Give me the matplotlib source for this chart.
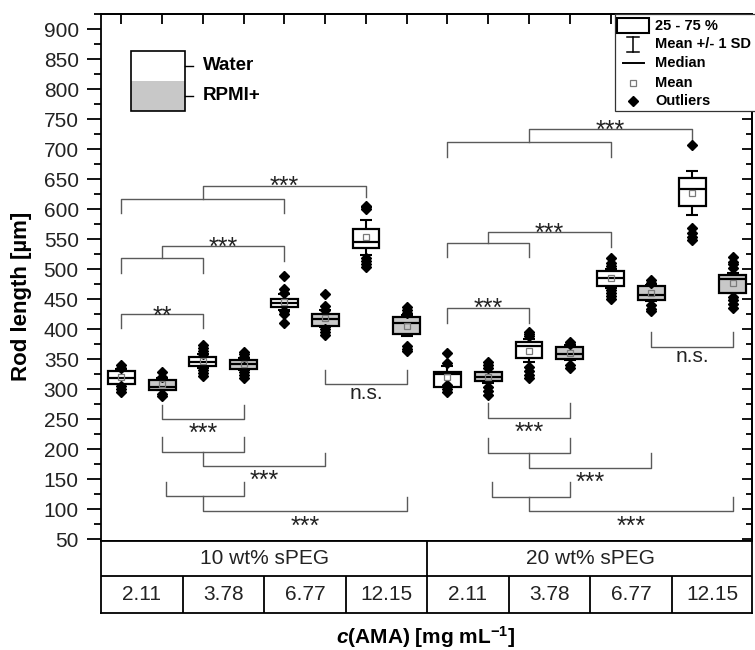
import numpy as np
import matplotlib.pyplot as plt
from matplotlib.patches import Rectangle
from matplotlib.ticker import MultipleLocator

plt.rcParams['font.family'] = ['Liberation Sans', 'DejaVu Sans']
plt.rcParams['mathtext.fontset'] = 'custom'
plt.rcParams['mathtext.rm'] = 'Liberation Sans'
plt.rcParams['mathtext.bf'] = 'Liberation Sans:bold'
plt.rcParams['mathtext.it'] = 'Liberation Sans:italic'
plt.rcParams['mathtext.bfit'] = 'Liberation Sans:bold:italic'

## data (order: 10 wt% then 20 wt%, each AMA conc. Water then RPMI+)
peg_groups = ['10 wt% sPEG', '20 wt% sPEG']
ama_conc = ['2.11', '3.78', '6.77', '12.15']
media = ['Water', 'RPMI+']

q1 = [308, 299, 338, 333, 437, 405, 535, 392,
      304, 313, 352, 350, 472, 448, 606, 460]
median = [318, 304, 345, 342, 443, 417, 545, 411,
          325, 320, 372, 358, 485, 457, 633, 483]
q3 = [331, 315, 353, 349, 450, 426, 567, 420,
      329, 328, 378, 370, 497, 472, 652, 491]
mean = [321, 308, 347, 342, 445, 418, 553, 406,
        321, 320, 364, 361, 485, 460, 627, 477]
sd = [12, 10, 11, 10, 13, 14, 29, 18,
      18, 9, 19, 12, 16, 13, 37, 17]
outliers = [
    [295, 300, 305, 336, 341],
    [288, 292, 320, 328],
    [322, 327, 332, 358, 363, 368, 373],
    [318, 323, 328, 353, 358, 362],
    [410, 425, 430, 460, 467, 488],
    [390, 395, 400, 432, 438, 458],
    [503, 508, 513, 519, 600, 603, 606],
    [363, 367, 372, 427, 432, 437],
    [296, 301, 307, 343, 360],
    [290, 297, 304, 335, 340, 346],
    [318, 324, 331, 337, 388, 392, 396],
    [335, 340, 375, 379],
    [451, 456, 461, 466, 505, 510, 518],
    [430, 434, 440, 477, 482],
    [549, 554, 561, 568, 707],
    [436, 442, 448, 454, 502, 508, 512, 521],
]

# significance brackets: x1, x2, y, leg, x_mid, x3, y2, leg2, label, text x, text centre
brackets = [
    (1, 3, 425.5, -24, None, None, None, None, '**', 2, 433),
    (1, 3, 518, -24, 2, 5, 538, -25, '***', 3.5, 548),
    (1, 5, 617, -24, 3, 7, 639.5, -18.5, '***', 5, 649.5),
    (2, 4, 250.5, 23.3, None, None, None, None, '***', 3, 237.7),
    (2, 4, 196, 25, 3, 6, 172.2, 22.3, '***', 4.5, 160),
    (2.1, 4, 122, 24, 3, 8, 97.7, 23.3, '***', 5.5, 83),
    (6, 8, 308.3, 23.7, None, None, None, None, 'n.s.', 7, 292),
    (9, 11, 435, -25, None, None, None, None, '***', 10, 446),
    (9, 11, 543.3, -23.3, 10, 13, 562.7, -25, '***', 11.5, 572),
    (9, 13, 711.5, -23.8, 11, 15, 733.3, -20.6, '***', 13, 743),
    (10, 12, 251.7, 26, None, None, None, None, '***', 11, 239),
    (10, 12, 194.5, 23.5, 11, 14, 169.5, 23.5, '***', 12.5, 157),
    (10.1, 12, 121, 25, 11, 16, 97.8, 23.2, '***', 13.5, 83),
    (14, 16, 371, 25, None, None, None, None, 'n.s.', 15, 354.5),
]

W, H = 755, 650
fig = plt.figure(figsize=(W / 100, H / 100), dpi=100)

def px(x0, y0, x1, y1):
    # pixel box -> figure fraction rect
    return [x0 / W, 1 - y1 / H, (x1 - x0) / W, (y1 - y0) / H]

ax = fig.add_axes(px(101, 14.3, 752, 540.7))
n = len(q1)
pos = np.arange(1, n + 1)
fills = ['white' if i % 2 == 0 else '#c8c8c8' for i in range(n)]
bw = 0.66

ax.errorbar(pos, mean, yerr=sd, fmt='none', ecolor='black', elinewidth=1.5,
            capsize=4.5, capthick=1.5, zorder=2)
ax.bar(pos, np.array(q3) - np.array(q1), bottom=q1, width=bw, color=fills,
       edgecolor='black', linewidth=1.6, zorder=3)
ax.hlines(median, pos - bw / 2, pos + bw / 2, color='black', lw=1.6, zorder=4)
ax.plot(pos, mean, 's', ms=4, mfc='none', mec='#7a7a7a', mew=0.9, zorder=5)
for p, o in zip(pos, outliers):
    ax.plot([p] * len(o), o, 'D', ms=5.3, color='black', zorder=4)

bcol = '#5a5a5a'
for x1, x2, y, leg, xm, x3, y2, leg2, lab, tx, tc in brackets:
    ax.plot([x1, x1, x2, x2], [y + leg, y, y, y + leg], color=bcol, lw=1.0, zorder=1)
    if xm is not None:
        ax.plot([xm, xm, x3, x3], [y, y2, y2, y2 + leg2], color=bcol, lw=1.0, zorder=1)
    if lab == 'n.s.':
        ax.text(tx, tc - 9, lab, ha='center', va='baseline', fontsize=15, color='#222222')
    else:
        ax.text(tx, tc - 24, lab, ha='center', va='baseline', fontsize=18, color='#222222')

ax.set_xlim(0.5, 16.47)
ax.set_ylim(47.5, 925)
ax.yaxis.set_major_locator(MultipleLocator(50))
ax.yaxis.set_minor_locator(MultipleLocator(25))
ax.tick_params(axis='x', bottom=False, labelbottom=False)
ax.tick_params(axis='y', which='major', direction='out', length=10, width=1.3,
               labelsize=15, pad=6, labelcolor='#222222')
ax.tick_params(axis='y', which='minor', direction='out', length=5, width=1.3)
for s in ax.spines.values():
    s.set_linewidth(1.3)

sec_y = ax.secondary_yaxis('right')
sec_y.yaxis.set_major_locator(MultipleLocator(50))
sec_y.yaxis.set_minor_locator(MultipleLocator(25))
sec_y.tick_params(which='major', direction='in', length=7, width=1.3, labelright=False)
sec_y.tick_params(which='minor', direction='in', length=4, width=1.3)
sec_y.spines['right'].set_linewidth(1.3)

sec_x = ax.secondary_xaxis('top')
sec_x.set_xticks(pos)
sec_x.tick_params(direction='in', length=7, width=1.3, labeltop=False)
sec_x.spines['top'].set_linewidth(1.3)

# table below the axis
tab = fig.add_axes(px(101, 540.7, 752, 613))
tab.set_xlim(ax.get_xlim())
tab.set_ylim(0, 1)
tab.set_xticks([])
tab.set_yticks([])
for s in tab.spines.values():
    s.set_linewidth(1.3)
row = 37 / 72.3
tab.axhline(row, color='black', lw=1.3)
tab.vlines([8.5], 0, 1, color='black', lw=1.3)
tab.vlines([2.5, 4.5, 6.5, 10.5, 12.5, 14.5], 0, row, color='black', lw=1.3)
for g, label in enumerate(peg_groups):
    tab.text(4.5 + 8 * g, (1 + row) / 2, label, ha='center', va='center', fontsize=15,
             color='#222222')
    for k, c in enumerate(ama_conc):
        tab.text(1.5 + 8 * g + 2 * k, row / 2, c, ha='center', va='center', fontsize=15,
                 color='#222222')

# overlay in pixel coords for legends and axis titles
ov = fig.add_axes([0, 0, 1, 1], zorder=10)
ov.set_xlim(0, W)
ov.set_ylim(H, 0)
ov.axis('off')

ov.text(21.7, 296, 'Rod length [µm]', rotation=90, ha='center', va='center',
        fontsize=16, fontweight='bold')
ov.text(426, 637, r'$\mathbfit{c}$(AMA) [mg mL$^{\mathbf{-1}}$]', ha='center', va='center',
        fontsize=15, fontweight='bold')

# medium legend (top left)
ov.add_patch(Rectangle((131, 80.7), 54, 30, facecolor='#c8c8c8', edgecolor='none'))
ov.add_patch(Rectangle((131, 50.7), 54, 60, facecolor='none', edgecolor='black', lw=1.2))
for yy, m in zip([65.7, 95.7], media):
    ov.plot([185, 193], [yy, yy], color='black', lw=1.0)
    ov.text(203, yy, m, ha='left', va='center', fontsize=13.5, fontweight='bold')

# box legend (top right)
ov.add_patch(Rectangle((615, 13.5), 150, 97, facecolor='white', edgecolor='#333333', lw=0.9))
ov.add_patch(Rectangle((617, 18.3), 32, 15, facecolor='none', edgecolor='black', lw=1.5))
ov.plot([633, 633], [37, 51.5], color='black', lw=1.1)
ov.plot([627, 639], [37, 37], color='black', lw=1.1)
ov.plot([627, 639], [51.5, 51.5], color='black', lw=1.1)
ov.plot([623, 644], [63.3, 63.3], color='black', lw=1.4)
ov.plot([633], [82.7], 's', ms=4, mfc='none', mec='#7a7a7a', mew=0.9)
ov.plot([633], [101], 'D', ms=5, color='black')
for yy, t in zip([26, 44.3, 63.3, 82.7, 101],
                 ['25 - 75 %', 'Mean +/- 1 SD', 'Median', 'Mean', 'Outliers']):
    ov.text(655, yy, t, ha='left', va='center', fontsize=10.5, fontweight='bold')

fig.savefig('out.png', dpi=100)
